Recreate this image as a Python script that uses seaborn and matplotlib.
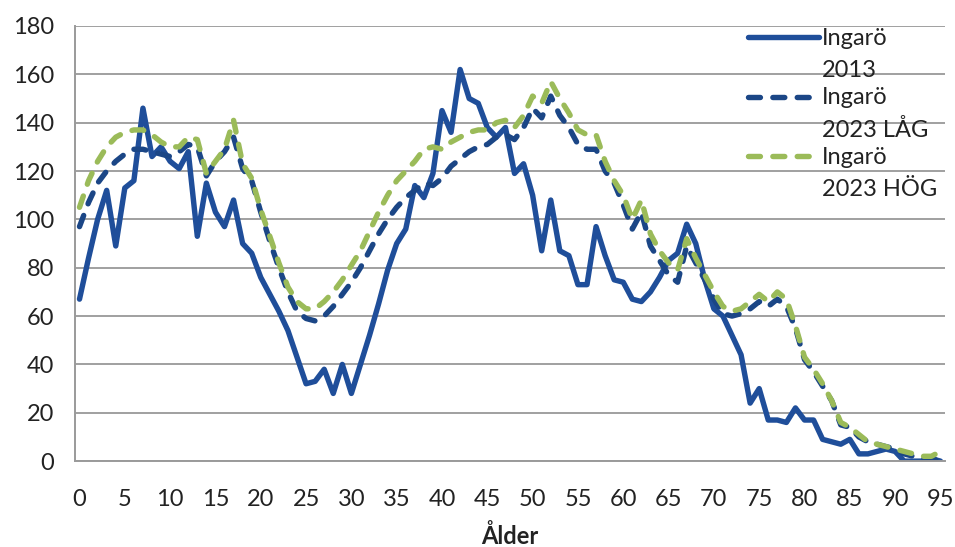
import numpy as np
import pandas as pd
import seaborn as sns
import matplotlib.pyplot as plt
from matplotlib.lines import Line2D
from matplotlib.legend_handler import HandlerLine2D

# ages 0..95
ages = list(range(96))

ingaro_2013 = [67, 84, 100, 112, 89, 113, 116, 146, 126, 130,
               124, 121, 128, 93, 115, 103, 97, 108, 90, 86,
               76, 69, 62, 54, 43, 32, 33, 38, 28, 40,
               28, 40, 52, 65, 79, 90, 96, 114, 109, 119,
               145, 136, 162, 150, 148, 138, 134, 138, 119, 123,
               110, 87, 108, 87, 85, 73, 73, 97, 85, 75,
               74, 67, 66, 70, 76, 83, 86, 98, 90, 75,
               63, 60, 52, 44, 24, 30, 17, 17, 16, 22,
               17, 17, 9, 8, 7, 9, 3, 3, 4, 5,
               4, 0, 0, 0, 1, 0]

ingaro_2023_lag = [97, 107, 115, 120, 124, 127, 129, 129, 128, 127,
                   126, 128, 131, 130, 118, 124, 128, 134, 121, 116,
                   103, 91, 80, 70, 62, 59, 58, 60, 64, 69,
                   74, 80, 87, 94, 100, 105, 109, 112, 115, 114,
                   117, 122, 125, 128, 130, 131, 134, 135, 133, 138,
                   146, 142, 151, 143, 138, 131, 129, 129, 120, 115,
                   106, 96, 103, 89, 83, 77, 74, 89, 82, 75,
                   67, 61, 60, 61, 63, 66, 64, 67, 64, 55,
                   42, 37, 31, 25, 15, 14, 10, 8, 7, 6,
                   5, 3, 2, 1, 1, 0]

ingaro_2023_hog = [105, 116, 124, 130, 134, 136, 137, 137, 135, 132,
                   130, 130, 134, 133, 119, 124, 129, 141, 123, 117,
                   104, 93, 82, 72, 66, 63, 63, 66, 70, 75,
                   81, 87, 95, 103, 110, 116, 120, 124, 129, 130,
                   129, 132, 134, 136, 137, 137, 140, 141, 138, 143,
                   151, 148, 157, 150, 144, 137, 135, 135, 124, 116,
                   110, 100, 108, 94, 87, 82, 79, 92, 84, 77,
                   70, 64, 62, 63, 66, 69, 66, 70, 67, 56,
                   43, 38, 32, 25, 16, 14, 11, 8, 7, 6,
                   5, 4, 3, 2, 2, 4]

series_names = ["Ingarö 2013", "Ingarö 2023 LÅG", "Ingarö 2023 HÖG"]
legend_labels = ["Ingarö\n2013", "Ingarö\n2023 LÅG", "Ingarö\n2023 HÖG"]
colors = ["#1f4e9a", "#1b4686", "#9bbb59"]
dash = (2.2, 2.3)
lw = 3.9

df = pd.DataFrame({
    "Ålder": ages * 3,
    "Antal": ingaro_2013 + ingaro_2023_lag + ingaro_2023_hog,
    "Serie": [series_names[0]] * 96 + [series_names[1]] * 96 + [series_names[2]] * 96,
})

sns.set_style("white")
plt.rcParams['font.family'] = ['Lato', 'DejaVu Sans']

fig = plt.figure(figsize=(9.55, 5.47), dpi=100)
ax = fig.add_axes([0.0785, 0.157, 0.911, 0.7955])

sns.lineplot(data=df, x="Ålder", y="Antal", hue="Serie", style="Serie",
             palette=dict(zip(series_names, colors)),
             dashes={series_names[0]: "", series_names[1]: dash, series_names[2]: dash},
             linewidth=lw, legend=False, ax=ax)
for ln in ax.lines:
    ln.set_dash_capstyle("round")
    ln.set_solid_joinstyle("round")

ax.set_xlim(-0.5, 95.5)
ax.set_ylim(0, 180)
ax.set_yticks(range(0, 181, 20))
ax.set_xticks(range(0, 96, 5))
ax.set_xticks(np.arange(-0.5, 96, 1), minor=True)
ax.tick_params(axis="x", which="major", length=0, pad=20, labelsize=17, colors="#222222")
ax.tick_params(axis="x", which="minor", length=6, width=1, color="#9a9a9a", direction="out")
ax.tick_params(axis="y", length=7, width=1, color="#9a9a9a", pad=8, labelsize=17, labelcolor="#222222")
ax.yaxis.grid(True, color="#a0a0a0", linewidth=1.4)
ax.xaxis.grid(False)
ax.set_axisbelow(True)
for s in ["top", "right"]:
    ax.spines[s].set_visible(False)
for s in ["left", "bottom"]:
    ax.spines[s].set_color("#9a9a9a")
    ax.spines[s].set_linewidth(1.4)

ax.set_xlabel("Ålder", fontsize=17, fontweight="bold", labelpad=10, color="#222222")
ax.set_ylabel("")


# legend handle sits next to the first line of the two-line label
class TopLineHandler(HandlerLine2D):
    def create_artists(self, legend, orig_handle, xdescent, ydescent, width, height, fontsize, trans):
        arts = super().create_artists(legend, orig_handle, xdescent, ydescent, width, height, fontsize, trans)
        for a in arts:
            a.set_ydata(np.asarray(a.get_ydata()) + 0.74 * fontsize)
        return arts


handles = [Line2D([], [], color=colors[0], lw=lw),
           Line2D([], [], color=colors[1], lw=lw, ls=(0, dash), dash_capstyle="round"),
           Line2D([], [], color=colors[2], lw=lw, ls=(0, dash), dash_capstyle="round")]
leg = ax.legend(handles, legend_labels, loc="upper left", bbox_to_anchor=(0.749, 1.045),
                frameon=False, fontsize=17, handlelength=3.0, handletextpad=0.15,
                labelspacing=0.25, handler_map={Line2D: TopLineHandler()})
for t in leg.get_texts():
    t.set_linespacing(1.65)
    t.set_color("#222222")

fig.savefig("out.png", dpi=100)
